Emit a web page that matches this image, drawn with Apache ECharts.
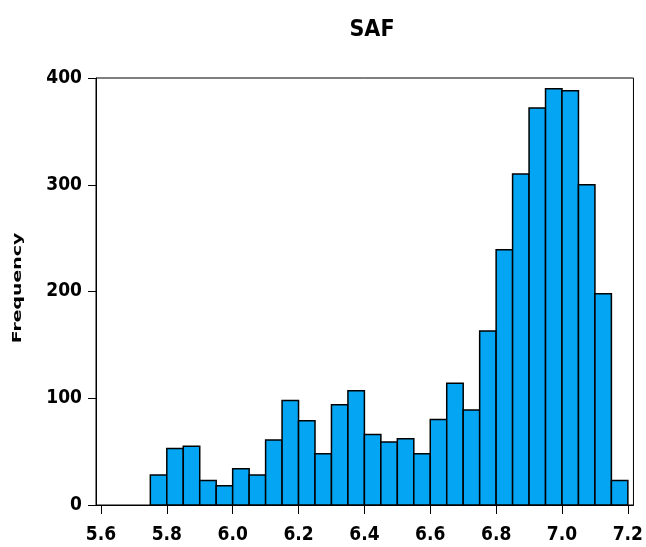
<!DOCTYPE html>
<html>
<head>
<meta charset="utf-8">
<script src="https://cdn.jsdelivr.net/npm/echarts@6/dist/echarts.min.js"></script>
<style>
  html, body { margin: 0; padding: 0; background: #fff; }
  #chart { width: 646px; height: 547px; }
</style>
</head>
<body>
<div id="chart"></div>
<script>
// Histogram of SAF: lower bin edges (bin width 0.05) and counts per bin
const binWidth = 0.05;
const binStarts = [5.75, 5.80, 5.85, 5.90, 5.95, 6.00, 6.05, 6.10, 6.15, 6.20,
                   6.25, 6.30, 6.35, 6.40, 6.45, 6.50, 6.55, 6.60, 6.65, 6.70,
                   6.75, 6.80, 6.85, 6.90, 6.95, 7.00, 7.05, 7.10, 7.15];
const counts = [28, 53, 55, 23, 18, 34, 28, 61, 98, 79,
                48, 94, 107, 66, 59, 62, 48, 80, 114, 89,
                163, 239, 310, 372, 390, 388, 300, 198, 23];
const xTicks = [5.6, 5.8, 6.0, 6.2, 6.4, 6.6, 6.8, 7.0, 7.2];
const yTicks = [0, 100, 200, 300, 400];

const labelFont = '"DejaVu Sans Condensed", "DejaVu Sans", sans-serif';

const chart = echarts.init(document.getElementById('chart'), null, { renderer: 'canvas' });

const binData = binStarts.map((s, i) => [s, s + binWidth, counts[i]]);

chart.setOption({
  animation: false,
  title: {
    text: 'SAF',
    left: 367,
    top: 14,
    textAlign: 'center',
    textStyle: { fontFamily: labelFont, fontWeight: 'bold', fontSize: 23, color: '#000' }
  },
  grid: {
    left: 96, right: 10, top: 78, bottom: 42,
    show: true, borderColor: '#000', borderWidth: 1, backgroundColor: 'transparent'
  },
  xAxis: {
    type: 'value',
    min: 5.585,
    max: 7.217,
    splitLine: { show: false },
    axisLine: { show: true, onZero: false, lineStyle: { color: '#000', width: 1 } },
    axisTick: { show: true, length: 9, customValues: xTicks, lineStyle: { color: '#000' } },
    axisLabel: {
      customValues: xTicks,
      margin: 21,
      formatter: v => v.toFixed(1),
      fontFamily: labelFont, fontWeight: 'bold', fontSize: 19, color: '#000'
    }
  },
  yAxis: {
    type: 'value',
    min: 0,
    max: 400,
    interval: 100,
    splitLine: { show: false },
    axisLine: { show: true, lineStyle: { color: '#000', width: 1 } },
    axisTick: { show: true, length: 8, lineStyle: { color: '#000' } },
    axisLabel: {
      margin: 14,
      fontFamily: labelFont, fontWeight: 'bold', fontSize: 19, color: '#000'
    }
  },
  graphic: [{
    type: 'text',
    x: 18,
    y: 288,
    rotation: Math.PI / 2,
    scaleX: 1.45,
    style: {
      text: 'Frequency',
      font: 'bold 13px "DejaVu Sans", sans-serif',
      fill: '#000',
      align: 'center',
      verticalAlign: 'middle'
    }
  }],
  series: [{
    type: 'custom',
    data: binData,
    encode: { x: [0, 1], y: 2 },
    renderItem: function (params, api) {
      const p0 = api.coord([api.value(0), api.value(2)]);
      const p1 = api.coord([api.value(1), 0]);
      return {
        type: 'rect',
        shape: { x: p0[0], y: p0[1], width: p1[0] - p0[0], height: p1[1] - p0[1] },
        style: { fill: '#04A6F4', stroke: '#000', lineWidth: 1.5 }
      };
    }
  }]
});
</script>
</body>
</html>
